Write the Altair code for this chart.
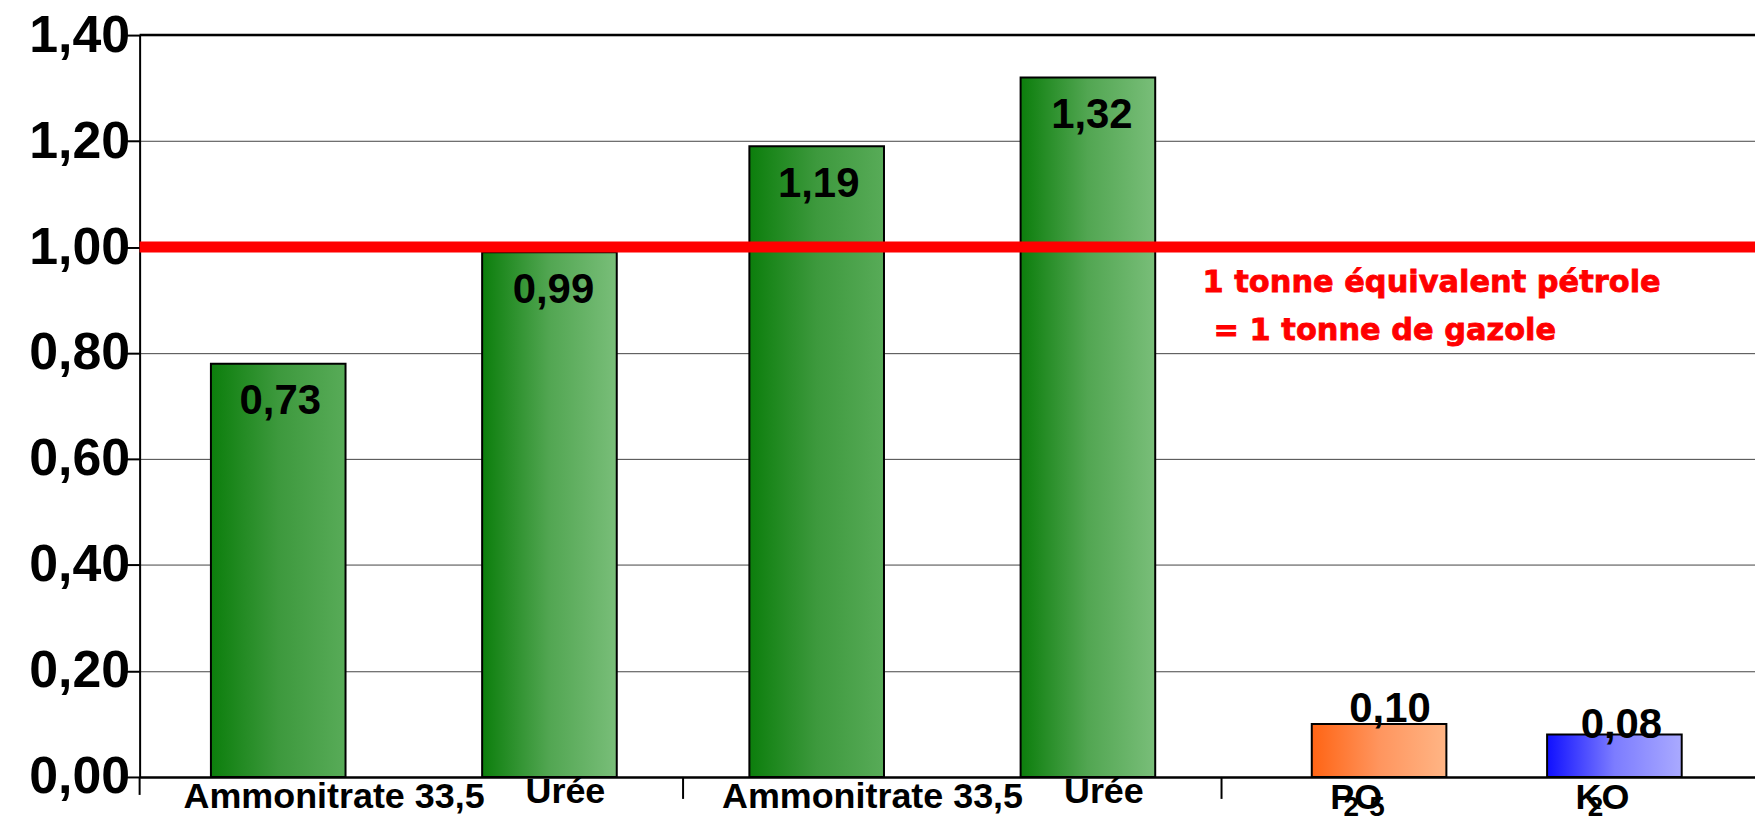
import altair as alt
import pandas as pd

# ---------------- data ----------------
keys = ["A1", "U1", "A2", "U2", "P", "K"]
kinds = ["amm", "uree", "amm", "uree", "p", "k"]
bar_heights = [0.78, 0.99, 1.19, 1.32, 0.10, 0.08]
value_labels = ["0,73", "0,99", "1,19", "1,32", "0,10", "0,08"]
axis_names = ["Ammonitrate 33,5", "Urée", "Ammonitrate 33,5", "Urée", "PO", "KO"]
sub_keys = ["P", "P", "K"]
sub_texts = ["2", "5", "2"]
y_ticks = [0, 0.2, 0.4, 0.6, 0.8, 1.0, 1.2, 1.4]
threshold = 1.0
note_lines = ["1 tonne équivalent pétrole", "= 1 tonne de gazole"]
group_starts = ["A1", "A2", "P"]

df = pd.DataFrame({"key": keys, "kind": kinds, "value": bar_heights,
                   "label": value_labels, "name": axis_names})
subs = pd.DataFrame({"key": sub_keys, "sub": sub_texts})
seps = pd.DataFrame({"key": group_starts})

W, H = 1620, 744
STEP = W / 6
FONT = "Liberation Sans"

xscale = alt.Scale(domain=keys, paddingInner=0.5, paddingOuter=0.25)
xaxis = alt.Axis(labels=False, ticks=False, domainColor="black", domainWidth=2.5,
                 grid=False, title=None)
yscale = alt.Scale(domain=[0, 1.4], nice=False, zero=True)
yaxis = alt.Axis(values=y_ticks,
                 labelExpr="replace(format(datum.value, '.2f'), '.', ',')",
                 labelFont=FONT, labelFontSize=52, labelFontWeight="bold",
                 labelColor="black", labelPadding=-8, tickSize=18,
                 tickColor="black", tickWidth=2, domainColor="black",
                 domainWidth=2, grid=True, gridColor="#444", gridWidth=1,
                 title=None)


def X(**kw):
    return alt.X("key:N", scale=xscale, axis=xaxis, **kw)


def Y():
    return alt.Y("value:Q", scale=yscale, axis=yaxis)


def grad(c0, c1, c2):
    return {"gradient": "linear", "x1": 0, "x2": 1, "y1": 0, "y2": 0,
            "stops": [{"offset": 0, "color": c0},
                      {"offset": 0.5, "color": c1},
                      {"offset": 1, "color": c2}]}


styles = {
    "amm": dict(g=grad("#0c7e0c", "#3d993d", "#58ab58"), bx=4, ldx=6, ldy=51, ndx=60, ndy=31),
    "uree": dict(g=grad("#0c7e0c", "#52a652", "#79be79"), bx=6, ldx=10, ldy=51, ndx=22, ndy=26),
    "p": dict(g=grad("#ff6414", "#ff955e", "#ffb585"), bx=28, ldx=39, ldy=-2, ndx=5, ndy=32),
    "k": dict(g=grad("#1010ff", "#7c7cff", "#aaaaff"), bx=-6, ldx=1, ldy=3, ndx=-18, ndy=32),
}

base = alt.Chart(df)
layers = []

# top border line
layers.append(alt.Chart(pd.DataFrame({"v": [1.4]})).mark_rule(color="black", strokeWidth=2.5)
              .encode(y=alt.Y("v:Q", scale=yscale, axis=yaxis)))

# bars
for k, s in styles.items():
    layers.append(base.transform_filter(alt.datum.kind == k)
                  .mark_bar(color=s["g"], stroke="black", strokeWidth=2, xOffset=s["bx"])
                  .encode(x=X(), y=Y()))

# red threshold line
layers.append(alt.Chart(pd.DataFrame({"v": [threshold]})).mark_rule(color="#ff0000", strokeWidth=11)
              .encode(y=alt.Y("v:Q", scale=yscale, axis=yaxis)))

# group separators below axis (first one is the y-axis extension)
sep_chart = alt.Chart(seps)
layers.append(sep_chart.transform_filter(alt.datum.key == group_starts[0])
              .mark_rule(color="black", strokeWidth=2, xOffset=-STEP / 4)
              .encode(x=X(bandPosition=0), y=alt.value(H), y2=alt.value(H + 18)))
layers.append(sep_chart.transform_filter(alt.datum.key != group_starts[0])
              .mark_rule(color="black", strokeWidth=2, xOffset=-STEP / 4 + 5)
              .encode(x=X(bandPosition=0), y=alt.value(H), y2=alt.value(H + 22)))

# value labels
for k, s in styles.items():
    layers.append(base.transform_filter(alt.datum.kind == k)
                  .mark_text(font=FONT, fontSize=42, fontWeight="bold", color="black",
                             baseline="alphabetic", dx=s["ldx"], dy=s["ldy"])
                  .encode(x=X(), y=Y(), text="label:N"))

# category labels
for k, s in styles.items():
    layers.append(base.transform_filter(alt.datum.kind == k)
                  .mark_text(font=FONT, fontSize=36, fontWeight="bold", color="black",
                             baseline="alphabetic", dx=s["ndx"], dy=s["ndy"])
                  .encode(x=X(), y=alt.value(H), text="name:N"))

# subscripts (P2O5, K2O)
sub_dx = [0, 26, -25]
for i in range(len(sub_texts)):
    layers.append(alt.Chart(subs.iloc[[i]]).mark_text(font=FONT, fontSize=28, fontWeight="bold",
                                                      color="black", baseline="alphabetic",
                                                      dx=sub_dx[i], dy=39)
                  .encode(x=X(), y=alt.value(H), text="sub:N"))

# red notes
note_pos = [(1066, 258), (1077, 306)]
for line, (px, py) in zip(note_lines, note_pos):
    layers.append(alt.Chart(pd.DataFrame({"t": [line]}))
                  .mark_text(font="DejaVu Sans", fontSize=30.5, fontWeight="bold",
                             color="#ff0000", align="left", baseline="alphabetic",
                             stroke="#ff0000", strokeWidth=0.8)
                  .encode(x=alt.value(px), y=alt.value(py), text="t:N"))

chart = (alt.layer(*layers)
         .properties(width=W, height=H,
                     autosize=alt.AutoSizeParams(type="none"),
                     padding={"left": 132, "top": 26, "right": 0, "bottom": 41},
                     background="white")
         .configure_view(stroke=None))

chart.save("out.html", embed_options={"renderer": "svg", "actions": False})
